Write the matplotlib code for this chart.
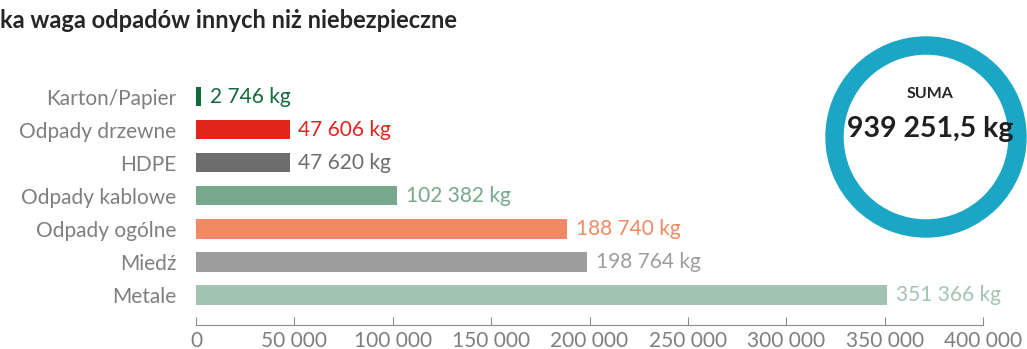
import matplotlib.pyplot as plt
from matplotlib.patches import Wedge

# Waste categories (top to bottom as listed) and their weights in kg
categories = ['Karton/Papier', 'Odpady drzewne', 'HDPE', 'Odpady kablowe',
              'Odpady ogólne', 'Miedź', 'Metale']
weights = [2746, 47606, 47620, 102382, 188740, 198764, 351366]
colors = ['#12693a', '#e2251b', '#6d6d6d', '#76a88c', '#f08964', '#9d9d9d', '#a3c3b1']
total_label = '939 251,5 kg'
x_ticks = [0, 50000, 100000, 150000, 200000, 250000, 300000, 350000, 400000]

plt.rcParams['font.family'] = ['Lato', 'DejaVu Sans']

W, H = 1027, 349
fig = plt.figure(figsize=(W / 100, H / 100), dpi=100)

def fmt(v):
    return f'{v:,}'.replace(',', ' ')

# overlay in pixel coordinates for the title and the total ring
ov = fig.add_axes([0, 0, 1, 1])
ov.set_xlim(0, W)
ov.set_ylim(H, 0)
ov.axis('off')

ov.text(0, 20, 'ka waga odpadów innych niż niebezpieczne', fontsize=17,
        fontweight='bold', color='#262626', ha='left', va='center')

ov.add_patch(Wedge((926, 137), 100, 0, 360, width=17, color='#1aa6c4'))
ov.text(930, 94, 'SUMA', fontsize=11.5, fontweight='bold', color='#262626',
        ha='center', va='center')
ov.text(930, 129, total_label, fontsize=20.5, fontweight='bold', color='#1f1f1f',
        ha='center', va='center')

# bar chart area
ax = fig.add_axes([196 / W, 1 - 325 / H, (983 - 196) / W, (325 - 77) / H])
ax.patch.set_visible(False)
n = len(categories)
ypos = list(range(n - 1, -1, -1))
ax.barh(ypos, weights, height=0.58, color=colors)
ax.set_xlim(0, 400000)
ax.set_ylim(-30 / 33, 6.6)

for y, v, c in zip(ypos, weights, colors):
    ax.text(v + 4300, y, f'{fmt(v)} kg', va='center', ha='left',
            fontsize=15, color=c)

ax.set_yticks(ypos)
ax.set_yticklabels(categories, fontsize=15, color='#7f7f7f')
ax.tick_params(axis='y', length=0, pad=14)

ax.set_xticks(x_ticks)
ax.set_xticklabels([fmt(t) for t in x_ticks], fontsize=15, color='#7f7f7f')
ax.tick_params(axis='x', direction='in', length=6, color='#8c8c8c', pad=4)

for s in ['top', 'right', 'left']:
    ax.spines[s].set_visible(False)
ax.spines['bottom'].set_color('#8c8c8c')

fig.savefig('out.png', dpi=100)
